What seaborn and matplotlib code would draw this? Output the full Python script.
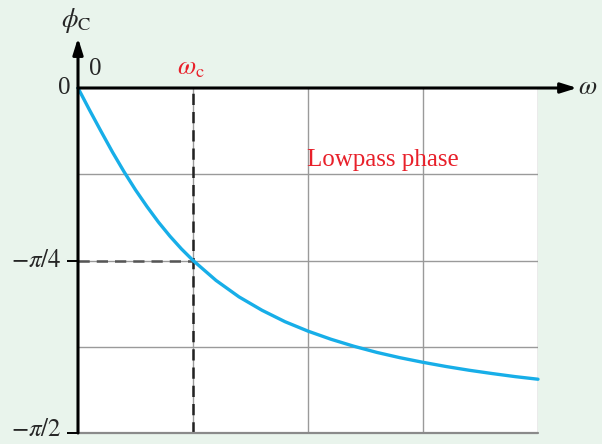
import numpy as np
import pandas as pd
import seaborn as sns
import matplotlib.pyplot as plt

# Normalised frequency (omega / omega_c) and capacitor-voltage phase (rad)
omega = [0.0, 0.1, 0.2, 0.3, 0.4, 0.5, 0.6, 0.7, 0.8, 0.9, 1.0, 1.2, 1.4,
         1.6, 1.8, 2.0, 2.2, 2.4, 2.6, 2.8, 3.0, 3.2, 3.4, 3.6, 3.8, 4.0]
phase = [0.0, -0.100, -0.197, -0.292, -0.381, -0.464, -0.540, -0.611,
         -0.675, -0.733, -0.785, -0.876, -0.951, -1.012, -1.064, -1.107,
         -1.144, -1.176, -1.204, -1.228, -1.249, -1.268, -1.285, -1.300,
         -1.314, -1.326]
ytick_vals = [0.0, -np.pi / 4, -np.pi / 2]
ytick_labels = ["0", r"$-\pi/4$", r"$-\pi/2$"]
cutoff = 1.0

df = pd.DataFrame({"omega": omega, "phase": phase})

sns.set_theme(style="white")
plt.rcParams["font.family"] = ["Liberation Serif", "DejaVu Serif"]
plt.rcParams["mathtext.fontset"] = "stix"

bg = "#e9f4ec"
fig = plt.figure(figsize=(6.02, 4.44), dpi=100, facecolor=bg)
ax = fig.add_axes([78 / 602, 11 / 444, 460 / 602, 345 / 444])
ax.set_facecolor("white")

ax.set_xlim(0, 4)
ax.set_ylim(-np.pi / 2, 0)

# grid
for gx in [1, 2, 3, 4]:
    ax.axvline(gx, color="#9a9a9a", lw=1.0, zorder=1)
for gy in [-np.pi / 8, -np.pi / 4, -3 * np.pi / 8]:
    ax.axhline(gy, color="#9a9a9a", lw=1.0, zorder=1)

# guides at the cutoff frequency
ax.plot([cutoff, cutoff], [-np.pi / 2, 0], color="#222222", lw=1.8,
        dashes=(4.5, 2.8), zorder=2)
ax.plot([0, cutoff], [-np.pi / 4, -np.pi / 4], color="#555555", lw=1.8,
        dashes=(4.5, 2.8), zorder=2)

sns.lineplot(data=df, x="omega", y="phase", ax=ax, color="#17aee8",
             lw=2.4, zorder=4, clip_on=False)

# frame
for s in ["top", "right", "bottom", "left"]:
    ax.spines[s].set_visible(False)
ax.plot([0, 4], [-np.pi / 2, -np.pi / 2], color="#8a8a8a", lw=1.6,
        clip_on=False, zorder=3)

# axes with arrows
ax.annotate("", xy=(1.085, 1.0), xytext=(0, 1.0), xycoords="axes fraction",
            arrowprops=dict(arrowstyle="-|>,head_length=0.8,head_width=0.25",
                            color="black", lw=2.2, shrinkA=0, shrinkB=0),
            zorder=5, annotation_clip=False)
ax.annotate("", xy=(0, 1.145), xytext=(0, 0), xycoords="axes fraction",
            arrowprops=dict(arrowstyle="-|>,head_length=0.8,head_width=0.25",
                            color="black", lw=2.2, shrinkA=0, shrinkB=0),
            zorder=5, annotation_clip=False)

# y ticks and their labels
ax.set_xticks([])
ax.set_yticks(ytick_vals[1:])
ax.set_yticklabels([])
ax.tick_params(axis="y", length=8, width=1.4, color="black", left=True)
ax.set_xlabel("")
ax.set_ylabel("")
label_dx = [-0.017, -0.035, -0.035]
label_dy = [0.0, 0.0, 0.015]
for val, lab, dx, dy in zip(ytick_vals, ytick_labels, label_dx, label_dy):
    ax.text(dx, val + dy, lab, transform=ax.get_yaxis_transform(),
            ha="right", va="center", fontsize=18)

ax.text(0.1, 0.035, "0", ha="left", va="bottom", fontsize=18)
ax.text(cutoff - 0.02, 0.035, r"$\omega_{\rm c}$", ha="center", va="bottom",
        fontsize=19, color="#e8202a")
ax.text(1.088, 1.0, r"$\omega$", transform=ax.transAxes, ha="left",
        va="center", fontsize=19)
ax.text(-0.005, 1.195, r"$\phi_{\rm C}$", transform=ax.transAxes, ha="center",
        va="center", fontsize=19)
ax.text(2.65, -0.328, "Lowpass phase", ha="center", va="center",
        fontsize=18, color="#e8202a")

fig.savefig("out.png", dpi=100, facecolor=bg)
